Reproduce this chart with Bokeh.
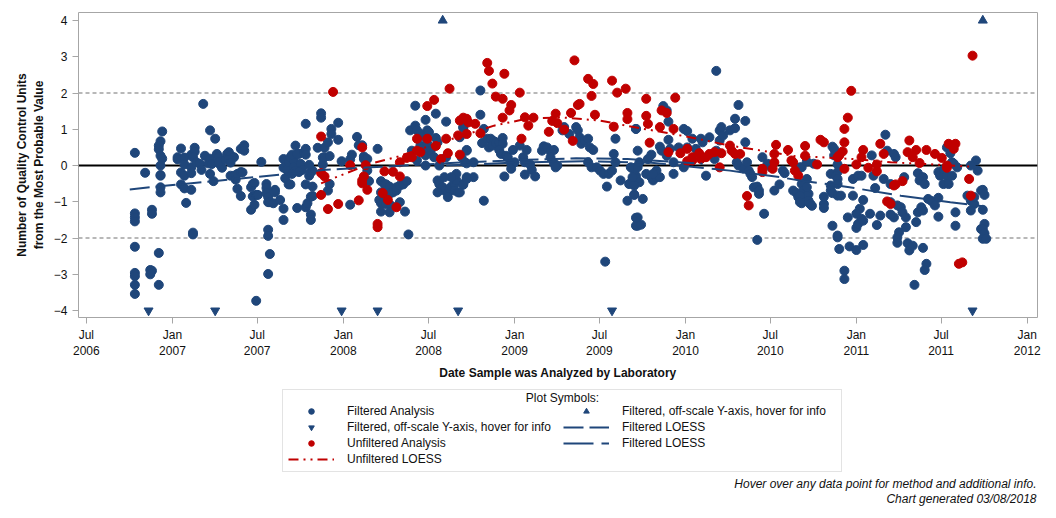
import numpy as np
import pandas as pd
from bokeh.plotting import figure
from bokeh.layouts import column
from bokeh.models import (Range1d, FixedTicker, DatetimeTickFormatter, Span, Legend,
                          LegendItem, Label)
from bokeh.embed import file_html
from bokeh.resources import INLINE

# ---------------- data (decimal year, QC units) ----------------
filtered_analysis = [
    (2006.78, 0.35), (2006.78, -1.32), (2006.78, -1.43), (2006.78, -1.54), (2006.78, -2.24), (2006.78, -2.96),
    (2006.78, -3.05), (2006.78, -3.29), (2006.78, -3.54), (2006.84, -0.20), (2006.88, -1.22), (2006.88, -1.33),
    (2006.87, -2.88), (2006.88, -2.90), (2006.87, -3.00), (2006.92, -3.29), (2006.92, -2.41),
    (2006.94, 0.94), (2006.93, 0.67), (2006.92, 0.55), (2006.92, 0.45), (2006.93, 0.27), (2006.94, 0.19),
    (2006.93, 0.00), (2006.93, -0.26), (2006.93, -0.28), (2006.93, -0.60), (2006.93, -0.74),
    (2007.03, 0.23), (2007.05, 0.47), (2007.03, 0.17), (2007.07, 0.22), (2007.07, 0.03), (2007.05, -0.19),
    (2007.07, -0.28), (2007.05, -0.52), (2007.07, -0.63), (2007.08, -1.03), (2007.11, -0.67), (2007.12, -1.85),
    (2007.12, -1.90), (2007.11, 0.30), (2007.13, 0.49), (2007.13, 0.38), (2007.12, 0.23), (2007.11, -0.05),
    (2007.11, -0.21), (2007.14, 0.09), (2007.18, 1.70), (2007.16, 0.05), (2007.17, -0.12), (2007.19, 0.27),
    (2007.21, 0.06), (2007.22, -0.23), (2007.22, 0.19), (2007.23, 0.04), (2007.22, 0.97), (2007.25, 0.74),
    (2007.24, -0.43), (2007.26, 0.32), (2007.27, 0.23), (2007.28, 0.02), (2007.29, -0.06), (2007.27, 0.09),
    (2007.31, 0.17), (2007.32, 0.32), (2007.33, 0.37), (2007.34, 0.28), (2007.36, 0.23), (2007.33, 0.17),
    (2007.34, 0.08), (2007.34, -0.28), (2007.36, -0.28), (2007.37, -0.39), (2007.38, -0.64), (2007.40, -0.84),
    (2007.38, -0.23), (2007.40, -0.18), (2007.40, 0.46), (2007.42, 0.56), (2007.42, 0.41), (2007.41, -0.19),
    (2007.46, -0.60), (2007.47, -0.51), (2007.48, -0.48), (2007.46, -1.22), (2007.48, -1.08), (2007.47, -0.85),
    (2007.49, -0.81), (2007.50, -0.81), (2007.49, -3.73), (2007.52, 0.10),
    (2007.55, -0.51), (2007.55, -0.62), (2007.55, -0.76), (2007.56, -0.87), (2007.56, -1.01), (2007.57, -1.01),
    (2007.59, -1.04), (2007.56, -1.77), (2007.57, -2.44), (2007.56, -2.99), (2007.56, -1.94),
    (2007.60, -0.67), (2007.60, -0.74), (2007.63, -0.95), (2007.65, -1.19), (2007.65, -1.50), (2007.66, -0.35),
    (2007.68, -0.52), (2007.65, 0.18), (2007.65, -0.06), (2007.67, -0.12), (2007.68, 0.09), (2007.69, 0.23),
    (2007.71, 0.14), (2007.72, 0.55), (2007.73, -1.17), (2007.74, 0.32), (2007.71, -0.05),
    (2007.70, 0.30), (2007.73, 0.32), (2007.77, 0.37), (2007.78, 0.46), (2007.78, 0.30), (2007.75, 0.05),
    (2007.76, -0.12), (2007.72, -0.14), (2007.74, -0.18), (2007.70, -0.23), (2007.69, -0.52), (2007.78, -0.52),
    (2007.82, -0.58), (2007.80, -0.28), (2007.81, -0.19), (2007.82, -0.14), (2007.80, 0.02), (2007.78, -1.15),
    (2007.79, -1.04), (2007.81, -0.86), (2007.82, -0.84), (2007.81, -1.35), (2007.81, -1.50), (2007.78, 1.15),
    (2007.85, 0.49), (2007.87, 1.44), (2007.87, 1.32), (2007.89, 0.49), (2007.88, 0.22), (2007.88, 0.03),
    (2007.89, 0.23), (2007.92, 0.26), (2007.91, 0.64), (2007.93, 1.01), (2007.93, 0.87), (2007.97, 1.18),
    (2007.97, 0.71), (2007.92, -0.51), (2007.91, -0.69),
    (2007.99, 0.12), (2008.04, 0.17), (2008.05, 0.30), (2008.04, -1.08), (2008.08, 0.79), (2008.09, 0.56),
    (2008.11, 0.56), (2008.12, 0.25), (2008.12, 0.18), (2008.13, 0.16), (2008.14, 0.18), (2008.14, -0.14),
    (2008.15, -0.43), (2008.20, 0.46),
    (2008.22, -0.43), (2008.24, -0.51), (2008.25, -0.52), (2008.27, -0.58), (2008.22, -0.74), (2008.23, -0.87),
    (2008.21, -0.95), (2008.22, -1.04), (2008.25, -1.06), (2008.26, -0.76), (2008.27, -0.78), (2008.29, -0.74),
    (2008.31, -0.69), (2008.31, -0.60), (2008.33, -0.55), (2008.35, -0.52), (2008.37, -0.43), (2008.28, -1.11),
    (2008.27, -1.29), (2008.33, -1.01), (2008.36, -1.27), (2008.22, -1.27), (2008.38, -1.90),
    (2008.42, 1.65), (2008.48, 1.26), (2008.54, 1.43), (2008.60, 1.21), (2008.39, 0.97), (2008.42, 1.10),
    (2008.43, 0.97), (2008.45, 0.87), (2008.47, 0.80), (2008.49, 0.97), (2008.50, 0.92), (2008.54, 0.76),
    (2008.45, 0.55), (2008.46, 0.46), (2008.48, 0.28), (2008.49, 0.60), (2008.51, 0.41), (2008.53, 0.23),
    (2008.48, 0.00), (2008.56, 0.00), (2008.60, 0.23), (2008.55, 0.64), (2008.40, 0.41), (2008.43, 0.14),
    (2008.55, -0.41), (2008.56, -0.51), (2008.58, -0.60), (2008.59, -0.69), (2008.61, -0.76), (2008.62, -0.64),
    (2008.63, -0.58), (2008.65, -0.51), (2008.66, -0.41), (2008.66, -0.23), (2008.63, -0.32), (2008.59, -0.32),
    (2008.61, -0.87), (2008.55, -0.74), (2008.65, -0.69), (2008.67, -0.74), (2008.70, -0.51), (2008.72, -0.32),
    (2008.72, 0.41), (2008.70, 1.06), (2008.71, 0.09),
    (2008.80, 2.07), (2008.80, 1.40), (2008.82, 1.01), (2008.70, 1.04), (2008.68, 0.78), (2008.72, 0.43),
    (2008.69, 0.23), (2008.72, 0.06), (2008.76, 0.09), (2008.76, -0.32), (2008.70, -0.53), (2008.68, -0.74),
    (2008.72, -0.37), (2008.82, -0.97),
    (2008.81, 0.62), (2008.84, 0.74), (2008.86, 0.74), (2008.88, 0.67), (2008.85, 0.50), (2008.87, 0.55),
    (2008.89, 0.62), (2008.91, 0.64), (2008.93, 0.76), (2008.93, 0.60), (2008.91, 0.43), (2008.92, 0.32),
    (2008.95, 0.27), (2008.96, 0.23), (2008.99, 0.43), (2008.98, 0.05), (2009.00, 0.09), (2008.98, -0.09),
    (2009.03, 0.55), (2009.05, 0.23), (2009.06, 0.09), (2009.07, 0.43), (2009.09, 0.03), (2009.10, -0.12),
    (2009.06, -0.25), (2009.12, -0.30), (2008.94, -0.30), (2009.16, 0.41), (2009.17, 0.53), (2009.19, 0.50),
    (2009.21, 0.39), (2009.23, 0.43), (2009.21, 0.23), (2009.23, 0.06), (2009.25, 0.00), (2009.24, -0.05),
    (2009.28, 0.97), (2009.29, 1.06), (2009.32, 0.87), (2009.36, 1.06), (2009.37, 0.97), (2009.38, 0.78),
    (2009.39, 0.60), (2009.41, 0.69), (2009.43, 0.74), (2009.44, 0.50), (2009.46, 0.43), (2009.43, 0.09),
    (2009.45, -0.05), (2009.48, -0.05), (2009.50, -0.14), (2009.52, -0.23), (2009.55, -0.23), (2009.57, -0.14),
    (2009.54, -0.58), (2009.59, 0.74), (2009.58, 0.32), (2009.59, 0.09), (2009.62, -0.41), (2009.66, -0.97),
    (2009.67, -0.51), (2009.69, -0.41), (2009.71, -0.28), (2009.71, -0.05), (2009.72, 0.41), (2009.71, 1.01),
    (2009.72, -1.43), (2009.72, -1.66), (2009.70, -0.80), (2009.53, -2.65),
    (2009.87, 1.64), (2009.89, 1.52), (2009.90, 1.21), (2009.90, 0.71), (2009.91, 0.46), (2009.89, 0.27),
    (2009.85, 0.52), (2009.86, 0.41), (2009.80, 0.30), (2009.78, 0.18), (2009.77, -0.23), (2009.80, -0.32),
    (2009.81, -0.41), (2009.83, -0.32), (2009.85, -0.32), (2009.83, -0.14), (2009.81, -0.23), (2009.70, -0.14),
    (2009.71, -0.37), (2009.73, -0.46), (2009.70, -0.55), (2009.69, -0.32), (2009.68, -0.05), (2009.72, -0.05),
    (2009.73, 0.09), (2009.71, 1.01), (2009.70, -0.81), (2009.75, -0.92), (2009.71, -1.44), (2009.71, -1.66),
    (2009.74, -1.63), (2009.93, -0.23), (2009.99, -0.05), (2009.99, 1.01), (2010.01, 0.95), (2010.04, 0.74),
    (2010.01, 0.50), (2009.96, 0.50), (2009.93, 0.09), (2010.06, 0.46), (2010.09, 0.74), (2010.10, 0.64),
    (2010.14, 0.78), (2010.12, -0.28), (2010.17, 0.18), (2010.18, 0.41), (2010.20, 0.69), (2010.20, 0.97),
    (2010.21, 1.06), (2010.22, 0.83), (2010.26, 0.97), (2010.29, 1.29), (2010.29, 1.03), (2010.31, 1.67),
    (2010.35, 1.23), (2010.35, 0.64), (2010.30, 0.09), (2010.31, 0.00), (2010.34, -0.09), (2010.36, 0.09),
    (2010.37, -0.14), (2010.38, -0.23), (2010.39, -0.32), (2010.40, -0.60), (2010.42, -0.58), (2010.43, -0.78),
    (2010.43, -0.69), (2010.45, 0.23), (2010.46, -1.33), (2010.42, -2.05), (2010.48, 0.05), (2010.50, -0.05),
    (2010.52, -0.69), (2010.55, -0.52), (2010.57, -0.14), (2010.58, -0.21), (2010.63, -0.69), (2010.65, -0.76),
    (2010.66, -0.87), (2010.68, -1.04), (2010.69, -0.51), (2010.71, -0.37), (2010.72, -0.78), (2010.73, -1.06),
    (2010.71, 0.11), (2010.68, -0.05), (2010.18, 2.61),
    (2010.67, -0.05), (2010.68, -0.51), (2010.69, -0.69), (2010.71, -0.83), (2010.72, -0.97), (2010.73, -1.06),
    (2010.74, -1.11), (2010.71, -0.60), (2010.67, -0.83), (2010.67, -1.01), (2010.75, 0.05), (2010.81, -1.06),
    (2010.81, -1.17), (2010.81, -0.86), (2010.85, -0.23), (2010.86, 0.52), (2010.87, 0.46), (2010.87, 0.28),
    (2010.89, 0.03), (2010.89, -0.18), (2010.88, -0.28), (2010.85, -0.55), (2010.85, -0.69), (2010.86, -0.76),
    (2010.89, -0.37), (2010.89, -0.51), (2010.89, -0.83), (2010.91, -0.83), (2010.86, -1.66), (2010.89, -1.93),
    (2010.89, -1.98), (2010.90, -2.30), (2010.93, -2.90), (2010.93, -3.13), (2010.95, -1.43), (2010.96, -2.23),
    (2011.00, -2.33), (2010.98, -0.83), (2010.98, -0.37), (2011.01, -0.28), (2011.03, -0.28), (2011.04, -0.95),
    (2011.02, -1.19), (2011.00, -1.33), (2011.00, -1.72), (2011.01, -1.61), (2011.03, -1.47), (2011.04, -1.52),
    (2011.04, -2.19), (2011.08, -1.33), (2011.10, -0.28), (2011.11, -0.62), (2011.09, 0.28), (2011.14, -1.38),
    (2011.12, -1.64), (2011.16, -0.37), (2011.17, 0.85), (2011.18, 0.41), (2011.20, -1.01), (2011.20, -0.51),
    (2011.22, 0.32), (2011.23, 0.23), (2011.22, -1.43), (2011.20, -1.35), (2011.24, -1.10), (2011.26, -1.15),
    (2011.28, -0.32), (2011.27, -1.29), (2011.29, -1.43), (2011.29, -1.70), (2011.25, -1.84), (2011.24, -1.98),
    (2011.24, -2.13), (2011.30, -2.14), (2011.31, -2.34), (2011.34, -3.29), (2011.33, -2.21), (2011.35, -1.56),
    (2011.36, -1.29), (2011.38, -1.15), (2011.39, -1.24), (2011.39, -2.27), (2011.41, -2.71), (2011.40, -2.88),
    (2011.36, -0.21), (2011.39, -0.32), (2011.37, -0.41), (2011.40, -0.51), (2011.42, -0.92), (2011.44, -0.98),
    (2011.46, -1.10), (2011.48, -0.89), (2011.48, -1.41), (2011.48, -0.18), (2011.49, -0.28), (2011.51, -0.12),
    (2011.53, -0.28), (2011.56, -0.28), (2011.51, -0.51), (2011.54, -0.51), (2011.53, 0.50), (2011.55, 0.34),
    (2011.56, 0.09), (2011.57, 0.05), (2011.59, -0.05), (2011.58, -1.29), (2011.58, -1.66), (2011.65, -0.83),
    (2011.67, -0.97), (2011.69, -1.06), (2011.67, -1.24), (2011.70, 0.14), (2011.71, -0.14), (2011.73, -0.69),
    (2011.73, -1.75), (2011.74, -0.67), (2011.75, -0.81), (2011.75, -1.61), (2011.74, -1.75), (2011.75, -1.87),
    (2011.74, -2.02), (2011.76, -2.02), (2011.67, 0.00), (2011.69, -0.87), (2011.74, -1.22),
]

filtered_offscale_low = [2006.86, 2007.25, 2007.99, 2008.20, 2008.67, 2009.57, 2011.68]
filtered_offscale_high = [2008.58, 2011.74]

unfiltered_analysis = [
    (2007.94, 2.03), (2007.87, 0.80), (2007.87, -0.21), (2007.89, -0.30), (2007.87, -0.81), (2007.91, -1.20),
    (2007.97, -1.06), (2008.04, 0.01), (2008.09, -0.96), (2008.11, 0.50), (2008.13, 0.01), (2008.12, -0.30),
    (2008.11, -0.41), (2008.11, -0.49), (2008.14, -0.67), (2008.20, -1.61), (2008.20, -1.70), (2008.23, -0.76),
    (2008.26, -0.95), (2008.24, -0.16), (2008.29, -0.17), (2008.33, -0.30), (2008.31, -1.15),
    (2008.33, 0.09), (2008.37, 0.21), (2008.40, 0.23), (2008.43, 0.74), (2008.45, 0.37), (2008.49, 0.74),
    (2008.43, 0.41), (2008.49, 1.64), (2008.53, 1.81), (2008.54, 0.54), (2008.57, 0.18), (2008.60, 0.74),
    (2008.61, 0.34), (2008.62, 2.12), (2008.67, 0.83), (2008.68, 0.30), (2008.68, 1.24), (2008.70, 1.32),
    (2008.72, 1.29), (2008.73, 1.19), (2008.77, 1.15), (2008.72, 0.87),
    (2008.80, 0.89), (2008.84, 2.83), (2008.85, 2.61), (2008.87, 2.26), (2008.89, 1.90), (2008.93, 1.84),
    (2008.94, 2.53), (2008.98, 1.67), (2008.97, 1.52), (2008.93, 1.32), (2009.03, 2.01), (2009.04, 0.74),
    (2009.06, 1.33), (2009.08, 1.10), (2009.11, 1.32),
    (2009.20, 0.93), (2009.22, 1.23), (2009.24, 1.43), (2009.25, 1.17), (2009.29, 0.99), (2009.33, 1.45),
    (2009.34, 0.68), (2009.35, 2.90), (2009.37, 1.67), (2009.38, 1.70), (2009.43, 2.39), (2009.45, 1.92),
    (2009.46, 2.25), (2009.47, 1.40), (2009.57, 2.34), (2009.58, 1.07), (2009.60, 2.01), (2009.65, 2.12),
    (2009.66, 1.45), (2009.66, 1.28),
    (2009.77, 1.84), (2009.77, 1.37), (2009.78, 1.15), (2009.79, 0.63), (2009.85, 1.06), (2009.86, 1.52),
    (2009.89, 1.45), (2009.93, 1.01), (2009.94, 1.87), (2009.90, 0.37), (2009.97, 0.34), (2010.01, 0.46),
    (2010.01, 0.12), (2010.04, 0.23), (2010.04, 0.14), (2010.08, 0.34), (2010.09, 0.18), (2010.12, 0.23),
    (2010.14, 0.32), (2010.17, 0.37), (2010.21, 0.34), (2010.20, -0.05), (2010.26, 0.55), (2010.27, 0.41),
    (2010.29, 0.32), (2010.32, 0.32), (2010.36, -0.84), (2010.37, -1.10), (2010.45, -0.09), (2010.45, -0.18),
    (2010.51, -0.09), (2010.52, 0.09), (2010.52, 0.32), (2010.53, 0.57), (2010.60, 0.43), (2010.62, 0.14),
    (2010.63, 0.09), (2010.64, -0.14), (2010.66, -0.28), (2010.70, 0.54), (2010.70, 0.27),
    (2010.77, 0.03), (2010.79, 0.71), (2010.81, 0.64), (2010.89, 0.23), (2010.90, 0.28), (2010.93, 0.64),
    (2010.93, 1.01), (2010.95, 1.32), (2010.97, 2.06), (2010.93, -0.09), (2010.92, 0.39), (2011.00, 0.03),
    (2011.03, 0.23), (2011.04, 0.43), (2011.07, -0.06), (2011.12, 0.03), (2011.12, -0.16), (2011.14, 0.60),
    (2011.16, 0.32), (2011.18, -0.99), (2011.20, -1.06), (2011.22, -0.55), (2011.23, -0.52), (2011.27, -0.43),
    (2011.30, 0.37), (2011.31, 0.69), (2011.33, 0.23), (2011.35, 0.43), (2011.37, 0.07), (2011.41, 0.43),
    (2011.46, 0.32), (2011.50, 0.21), (2011.53, 0.00), (2011.53, -0.06), (2011.54, 0.60), (2011.56, 0.55),
    (2011.57, 0.46), (2011.58, 0.60), (2011.66, -0.37), (2011.67, -0.83), (2011.60, -2.71), (2011.62, -2.67),
    (2011.68, 3.03),
]

filtered_loess_a_year = [2006.75, 2006.97, 2007.24, 2007.48, 2007.73, 2007.88, 2008.16, 2008.47, 2008.72,
                         2009.07, 2009.36, 2009.66, 2009.87, 2010.10]
filtered_loess_a_value = [-0.66, -0.55, -0.43, -0.32, -0.21, -0.12, -0.05, 0.03, 0.09,
                          0.16, 0.20, 0.18, 0.12, 0.05]
filtered_loess_b_year = [2008.60, 2009.00, 2009.40, 2009.80, 2010.26, 2010.55, 2010.67, 2010.96, 2011.26,
                         2011.55, 2011.74]
filtered_loess_b_value = [0.00, 0.08, 0.12, 0.08, -0.14, -0.32, -0.41, -0.60, -0.83, -1.01, -1.12]
unfiltered_loess_year = [2007.87, 2007.98, 2008.16, 2008.32, 2008.51, 2008.72, 2008.88, 2009.07, 2009.27,
                         2009.50, 2009.72, 2009.87, 2010.07, 2010.26, 2010.50, 2010.65, 2010.79, 2010.98,
                         2011.20, 2011.45, 2011.67]
unfiltered_loess_value = [-0.49, -0.28, 0.05, 0.25, 0.55, 0.86, 1.10, 1.29, 1.33,
                          1.24, 1.04, 0.92, 0.74, 0.55, 0.37, 0.25, 0.23, 0.18,
                          0.09, 0.03, -0.03]

x_tick_dates = ["2006-07-01", "2007-01-01", "2007-07-01", "2008-01-01", "2008-07-01", "2009-01-01",
                "2009-07-01", "2010-01-01", "2010-07-01", "2011-01-01", "2011-07-01", "2012-01-01"]
y_ticks = [-4, -3, -2, -1, 0, 1, 2, 3, 4]
x_limits = (2006.45, 2012.06)
y_limits = (-4.19, 4.22)

BLUE = "#1f467a"
RED = "#c00000"
FONT = "Liberation Sans"
TXT = "#111111"


def to_dt(years):
    out = []
    for y in years:
        yr = int(np.floor(y))
        start = pd.Timestamp(year=yr, month=1, day=1)
        end = pd.Timestamp(year=yr + 1, month=1, day=1)
        out.append(start + (end - start) * (y - yr))
    return out


fa_x = to_dt([p[0] for p in filtered_analysis])
fa_y = [p[1] for p in filtered_analysis]
ua_x = to_dt([p[0] for p in unfiltered_analysis])
ua_y = [p[1] for p in unfiltered_analysis]

W = 1050
H1 = 386
p = figure(width=W, height=H1, x_axis_type="datetime", output_backend="svg",
           toolbar_location=None,
           x_range=Range1d(*to_dt(x_limits)), y_range=Range1d(*y_limits),
           min_border_left=78, min_border_right=13, min_border_top=12, min_border_bottom=H1 - 317)
p.background_fill_color = "white"
p.border_fill_color = "white"
p.outline_line_color = "#a6a6a6"
p.outline_line_width = 1
p.xgrid.visible = False
p.ygrid.visible = False

p.add_layout(Span(location=2, dimension="width", line_color="#b8b8b8", line_width=2,
                  line_dash="4 3", level="underlay"))
p.add_layout(Span(location=-2, dimension="width", line_color="#b8b8b8", line_width=2,
                  line_dash="4 3", level="underlay"))
p.add_layout(Span(location=0, dimension="width", line_color="black", line_width=2, level="underlay"))

styles = {
    "fa": dict(marker="circle", size=9, fill_color=BLUE, line_color=BLUE),
    "ua": dict(marker="circle", size=9, fill_color=RED, line_color=RED),
    "low": dict(marker="inverted_triangle", size=9, fill_color=BLUE, line_color=BLUE),
    "high": dict(marker="triangle", size=9, fill_color=BLUE, line_color=BLUE),
    "la": dict(line_color=BLUE, line_width=2, line_dash="20 6"),
    "lb": dict(line_color=BLUE, line_width=2, line_dash="30 8"),
    "lu": dict(line_color=RED, line_width=2, line_dash="10 5 2 5 2 5"),
}

p.scatter(fa_x, fa_y, **styles["fa"])
p.scatter(ua_x, ua_y, **styles["ua"])
p.scatter(to_dt(filtered_offscale_low), [y_ticks[0]] * len(filtered_offscale_low), **styles["low"])
p.scatter(to_dt(filtered_offscale_high), [y_ticks[-1]] * len(filtered_offscale_high), **styles["high"])
p.line(to_dt(filtered_loess_a_year), filtered_loess_a_value, **styles["la"])
p.line(to_dt(filtered_loess_b_year), filtered_loess_b_value, **styles["lb"])
p.line(to_dt(unfiltered_loess_year), unfiltered_loess_value, **styles["lu"])

tick_ms = [pd.Timestamp(d).value / 1e6 for d in x_tick_dates]
p.xaxis.ticker = FixedTicker(ticks=tick_ms)
fmt = "%b\n%Y"
p.xaxis.formatter = DatetimeTickFormatter(days=fmt, months=fmt, years=fmt, hours=fmt, hourmin=fmt,
                                          minutes=fmt, minsec=fmt, seconds=fmt)
p.yaxis.ticker = FixedTicker(ticks=y_ticks)
p.xaxis.axis_label = "Date Sample was Analyzed by Laboratory"
p.yaxis.axis_label = "Number of Quality Control Units\nfrom the Most Probable Value"
for ax in (p.xaxis, p.yaxis):
    ax.axis_line_color = None
    ax.major_tick_line_color = "#a6a6a6"
    ax.major_tick_out = 6
    ax.major_tick_in = 0
    ax.minor_tick_line_color = None
    ax.major_label_text_font = FONT
    ax.major_label_text_font_size = "12px"
    ax.major_label_text_color = TXT
    ax.axis_label_text_font = FONT
    ax.axis_label_text_font_size = "12px"
    ax.axis_label_text_font_style = "bold"
    ax.axis_label_text_color = TXT
p.yaxis.major_label_standoff = 5
p.yaxis.axis_label_standoff = 5
p.xaxis.major_label_standoff = 4
p.xaxis.axis_label_standoff = 5

# ---------------- legend / footer panel ----------------
H2 = 130
q = figure(width=W, height=H2, output_backend="svg", toolbar_location=None,
           x_range=Range1d(0, 1), y_range=Range1d(0, 1),
           x_axis_location=None, y_axis_location=None, min_border=0)
q.outline_line_color = None
q.xgrid.visible = False
q.ygrid.visible = False
q.background_fill_color = "white"
q.border_fill_color = "white"

# legend-only renderers (their single point lies outside the visible range)
off = [-10]
d_fa = q.scatter(off, off, **styles["fa"])
d_ua = q.scatter(off, off, **styles["ua"])
d_low = q.scatter(off, off, **styles["low"])
d_high = q.scatter(off, off, **styles["high"])
d_la = q.line(off, off, **styles["la"])
d_lb = q.line(off, off, **styles["lb"])
d_lu = q.line(off, off, **styles["lu"])

items = [
    LegendItem(label="Filtered Analysis", renderers=[d_fa]),
    LegendItem(label="Filtered, off-scale Y-axis, hover for info", renderers=[d_low]),
    LegendItem(label="Unfiltered Analysis", renderers=[d_ua]),
    LegendItem(label="Unfiltered LOESS", renderers=[d_lu]),
    LegendItem(label="Filtered, off-scale Y-axis, hover for info", renderers=[d_high]),
    LegendItem(label="Filtered LOESS", renderers=[d_la]),
    LegendItem(label="Filtered LOESS", renderers=[d_lb]),
]
# q's frame is aligned with p's frame (starts at x=78); bottom of q is at page y=516
legend = Legend(items=items, ncols=2, location=(204, 44), title="\u00a0",
                title_text_font_size="8px", title_standoff=0,
                label_text_font=FONT, label_text_font_size="12px", label_text_color=TXT,
                glyph_width=46, glyph_height=14, label_height=14, label_width=214, label_standoff=13,
                spacing=2, padding=5, margin=0,
                border_line_color="#c8c8c8", border_line_width=1,
                background_fill_alpha=0.0)
q.add_layout(legend, "center")

q.add_layout(Label(x=484, y=119, x_units="screen", y_units="screen", text="Plot Symbols:",
                   text_font=FONT, text_font_size="12px", text_color=TXT,
                   text_align="center", text_baseline="middle"))
q.add_layout(Label(x=958, y=33, x_units="screen", y_units="screen",
                   text="Hover over any data point for method and additional info.",
                   text_font=FONT, text_font_size="12px", text_font_style="italic",
                   text_color=TXT, text_align="right", text_baseline="middle"))
q.add_layout(Label(x=958, y=18, x_units="screen", y_units="screen",
                   text="Chart generated 03/08/2018",
                   text_font=FONT, text_font_size="12px", text_font_style="italic",
                   text_color=TXT, text_align="right", text_baseline="middle"))

layout = column(p, q, spacing=0)
open("out.html", "w").write(file_html(layout, INLINE))
